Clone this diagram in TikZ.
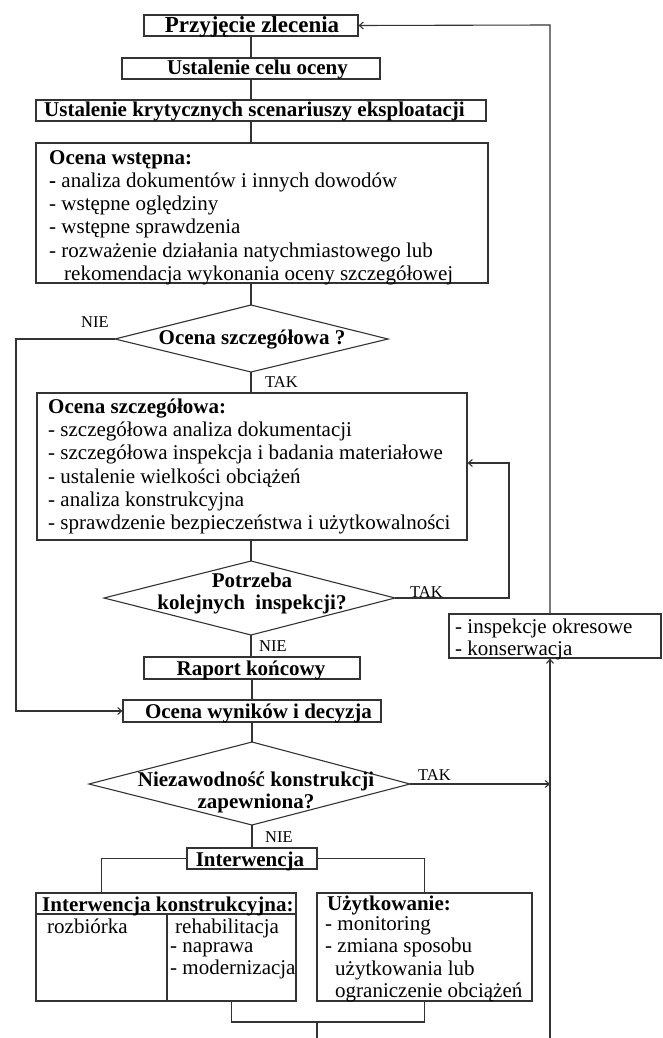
\documentclass[tikz,border=0pt]{standalone}
\usepackage{fontspec}
\setmainfont{Liberation Serif}
\usetikzlibrary{arrows.meta}
\begin{document}
\begin{tikzpicture}[x=1pt,y=-1pt,
  ln/.style={draw=black!80, line width=1.1pt},
  arr/.style={ln, -{Straight Barb[length=4pt,width=7pt]}},
  bx/.style={draw=black!80, line width=1.1pt, rectangle, inner sep=0pt},
  txt/.style={inner sep=0pt, anchor=base west, font=\fontsize{21pt}{23pt}\selectfont},
  txtb/.style={inner sep=0pt, anchor=base, font=\fontsize{21pt}{23pt}\selectfont\bfseries},
  lbl/.style={inner sep=0pt, anchor=base west, font=\fontsize{16.5pt}{18pt}\selectfont},
]
\useasboundingbox (0,0) rectangle (662,1038);

% ---------- boxes ----------
\node[bx, minimum width=214pt, minimum height=21pt] (p1) at (251,25.5) {};
\node[bx, minimum width=258pt, minimum height=21pt] (p2) at (251,68.5) {};
\node[bx, minimum width=450pt, minimum height=21pt] (p3) at (261,110.5) {};
\node[bx, minimum width=452pt, minimum height=140pt] (p4) at (262,213) {};
\node[bx, minimum width=430pt, minimum height=147pt] (p5) at (252,466.5) {};
\node[bx, minimum width=216pt, minimum height=22pt] (p6) at (252,668) {};
\node[bx, minimum width=258pt, minimum height=22pt] (p7) at (252,711) {};
\node[bx, minimum width=130pt, minimum height=21pt] (p8) at (252,858.5) {};
\node[bx, minimum width=260pt, minimum height=108pt] (p9) at (166,947) {};
\node[bx, minimum width=215pt, minimum height=108pt] (p10) at (424.5,947) {};
\node[bx, minimum width=212pt, minimum height=44pt] (insp) at (555,636) {};

% IK box inner lines
\coordinate (ikhl) at (36,914);
\coordinate (ikhr) at (296,914);
\coordinate (ikdt) at (167,914);
\coordinate (ikdb) at (167,1001);
\draw[ln] (ikhl) -- (ikhr);
\draw[ln] (ikdt) -- (ikdb);

% ---------- diamonds ----------
\coordinate (d1t) at (251,305); \coordinate (d1l) at (115,339);
\coordinate (d1r) at (388,339); \coordinate (d1b) at (251,372);
\draw[ln] (d1t) -- (d1r) -- (d1b) -- (d1l) -- cycle;
\coordinate (d2t) at (251,561); \coordinate (d2l) at (104,598);
\coordinate (d2r) at (395,598); \coordinate (d2b) at (251,635);
\draw[ln] (d2t) -- (d2r) -- (d2b) -- (d2l) -- cycle;
\coordinate (d3t) at (252,742); \coordinate (d3l) at (89,784);
\coordinate (d3r) at (410,784); \coordinate (d3b) at (252,825);
\draw[ln] (d3t) -- (d3r) -- (d3b) -- (d3l) -- cycle;

% ---------- texts ----------
\node[txtb, font=\fontsize{23pt}{25pt}\selectfont\bfseries] (p1t) at (252,32.5) {Przyjęcie zlecenia};
\node[txtb] (p2t) at (257.5,75) {Ustalenie celu oceny};
\node[txtb] (p3t) at (254.5,117) {Ustalenie krytycznych scenariuszy eksploatacji};

\node[txt, font=\fontsize{21pt}{23pt}\selectfont\bfseries] (p4a) at (49,164) {Ocena wstępna:};
\node[txt] (p4b) at (49,187) {\textbf{-} analiza dokumentów i innych dowodów};
\node[txt] (p4c) at (49,210) {- wstępne oględziny};
\node[txt] (p4d) at (49,233) {- wstępne sprawdzenia};
\node[txt] (p4e) at (49,257) {- rozważenie działania natychmiastowego lub};
\node[txt] (p4f) at (64,280) {rekomendacja wykonania oceny szczegółowej};

\node[txtb] (d1x) at (252,344) {Ocena szczegółowa ?};

\node[txt, font=\fontsize{21pt}{23pt}\selectfont\bfseries] (p5a) at (48,413) {Ocena szczegółowa:};
\node[txt] (p5b) at (48,436) {- szczegółowa analiza dokumentacji};
\node[txt] (p5c) at (48,459) {- szczegółowa inspekcja i badania materiałowe};
\node[txt] (p5d) at (48,483) {- ustalenie wielkości obciążeń};
\node[txt] (p5e) at (48,506) {- analiza konstrukcyjna};
\node[txt] (p5f) at (48,529) {- sprawdzenie bezpieczeństwa i użytkowalności};

\node[txtb] (d2x) at (252,587) {Potrzeba};
\node[txtb] (d2y) at (252,609) {kolejnych\ \ inspekcji?};

\node[txtb] (p6t) at (251,675) {Raport końcowy};
\node[txtb] (p7t) at (258.5,718) {Ocena wyników i decyzja};

\node[txtb] (d3x) at (256,786) {Niezawodność konstrukcji};
\node[txtb] (d3y) at (256,808) {zapewniona?};

\node[txtb] (p8t) at (250,866) {Interwencja};

\node[txt, font=\fontsize{21pt}{23pt}\selectfont\bfseries] (p9a) at (42,911) {Interwencja konstrukcyjna:};
\node[txt] (p9b) at (47,933) {rozbiórka};
\node[txt] (p9c) at (175,933) {rehabilitacja};
\node[txt] (p9d) at (170,952) {- naprawa};
\node[txt] (p9e) at (170,974) {- modernizacja};

\node[txt, font=\fontsize{21pt}{23pt}\selectfont\bfseries] (p10a) at (327,910) {Użytkowanie:};
\node[txt] (p10b) at (325,930) {- monitoring};
\node[txt] (p10c) at (325,952) {- zmiana sposobu};
\node[txt] (p10d) at (335,975) {użytkowania lub};
\node[txt] (p10e) at (335,997) {ograniczenie obciążeń};

\node[txt] (inspa) at (455,633) {- inspekcje okresowe};
\node[txt] (inspb) at (455,655) {- konserwacja};

\node[lbl] (l1) at (81,327) {NIE};
\node[lbl] (l2) at (265,387) {TAK};
\node[lbl] (l3) at (410,597) {TAK};
\node[lbl] (l4) at (259,651) {NIE};
\node[lbl] (l5) at (418,780) {TAK};
\node[lbl] (l6) at (265,842) {NIE};

% ---------- connectors ----------
\draw[ln] (p1.south) -- (p2.north);
\draw[ln] (p2.south) -- (p2.south |- p3.north);
\draw[ln] (p2.south |- p3.south) -- (p2.south |- p4.north);
\draw[ln] (p2.south |- p4.south) -- (d1t);
\draw[ln] (d1b) -- (d1b |- p5.north);
\draw[ln] (d2t |- p5.south) -- (d2t);
\coordinate (loopc) at (509,463);
\draw[arr] (d2r) -| (loopc) -- (loopc -| p5.east);
\draw[ln] (d2b) -- (d2b |- p6.north);
\draw[ln] (p6.south) -- (p7.north);
\coordinate (nie1) at (16,339);
\draw[arr] (d1l) -- (nie1) |- (p7.west);
\draw[ln] (p7.south) -- (d3t);
\draw[ln] (d3b) -- (p8.north);

\coordinate (rtop) at (550,25);
\coordinate (rbot) at (550,1038);
\draw[arr] (rtop |- insp.north) -- (rtop) -- (p1.east);
\draw[arr] (rbot) -- (rbot |- insp.south);
\draw[arr] (d3r) -- (d3r -| rtop);

\coordinate (ikcell) at (101.5,893);
\draw[ln] (p8.west) -| (ikcell);
\draw[ln] (p8.east) -| (p10.north);
\coordinate (ikr) at (231.5,1001);
\coordinate (join) at (231.5,1022);
\coordinate (join2) at (424.5,1022);
\draw[ln] (ikr) -- (join) -- (join2) -- (p10.south);
\coordinate (outs) at (317,1022);
\coordinate (oute) at (317,1038);
\draw[ln] (outs) -- (oute);
\end{tikzpicture}
\end{document}
